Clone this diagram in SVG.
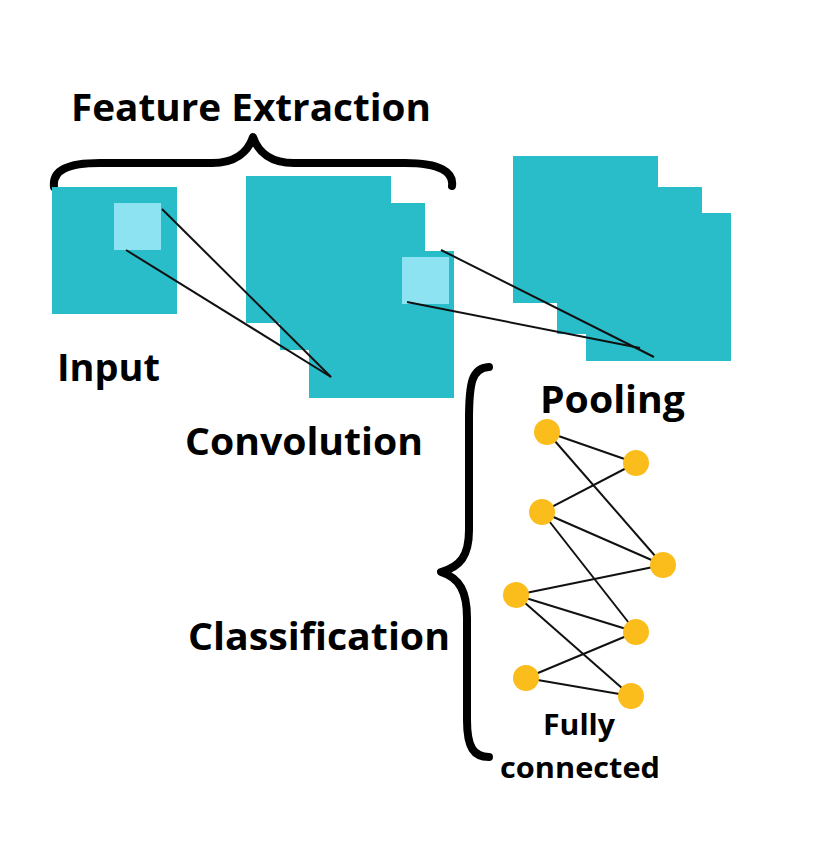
<svg xmlns="http://www.w3.org/2000/svg" width="828" height="842" viewBox="0 0 828 842">
<style>
.t{font-family:"Open Sans","Liberation Sans",sans-serif;font-weight:700;fill:#000}
.m{fill:#29BDC9}
.l{fill:#8EE3F2}
.n{fill:#FBBD1C}
.e{stroke:#111;stroke-width:2;fill:none}
.b{stroke:#000;stroke-width:8;fill:none;stroke-linecap:round;stroke-linejoin:round}
</style>
<rect width="828" height="842" fill="#fff"/>
<g id="title"><text class="t" x="251" y="121" font-size="38" text-anchor="middle" textLength="360" lengthAdjust="spacingAndGlyphs">Feature Extraction</text></g>
<g id="brace-top"><path class="b" d="M54,187 C52,170 68,163 100,163 L212,163 C235,163 248,152 253,137 C258,152 271,163 294,163 L405,163 C440,163 454,172 452,186"/></g>
<g id="brace-side"><path class="b" d="M489,367 C472,368 469,382 469,420 L469,530 C469,556 460,567 441,572 C460,578 467,592 467,618 L467,720 C467,748 474,757 489,757"/></g>
<g id="input">
<rect class="m" x="52" y="187" width="125" height="127"/>
<rect class="l" x="114" y="203" width="47" height="47"/>
<text class="t" x="57" y="381" font-size="38" textLength="103" lengthAdjust="spacingAndGlyphs">Input</text>
</g>
<g id="convolution">
<rect class="m" x="246" y="176" width="145" height="147"/>
<rect class="m" x="280" y="203" width="145" height="147"/>
<rect class="m" x="309" y="251" width="145" height="147"/>
<rect class="l" x="402" y="257" width="47" height="47"/>
<text class="t" x="185" y="455" font-size="38" textLength="238" lengthAdjust="spacingAndGlyphs">Convolution</text>
</g>
<g id="pooling">
<rect class="m" x="513" y="156" width="145" height="147"/>
<rect class="m" x="557" y="187" width="145" height="147"/>
<rect class="m" x="586" y="213" width="145" height="148"/>
<text class="t" x="540" y="413" font-size="38" textLength="145" lengthAdjust="spacingAndGlyphs">Pooling</text>
</g>
<g id="classification"><text class="t" x="188" y="650" font-size="38" textLength="262" lengthAdjust="spacingAndGlyphs">Classification</text></g>
<g id="connectors">
<line class="e" x1="162" y1="209" x2="331" y2="377"/>
<line class="e" x1="126" y1="250" x2="331" y2="377"/>
<line class="e" x1="441" y1="250" x2="654" y2="357"/>
<line class="e" x1="407" y1="302" x2="640" y2="348"/>
<line class="e" x1="547" y1="432" x2="636" y2="463"/>
<line class="e" x1="547" y1="432" x2="663" y2="565"/>
<line class="e" x1="636" y1="463" x2="542" y2="512"/>
<line class="e" x1="542" y1="512" x2="663" y2="565"/>
<line class="e" x1="542" y1="512" x2="636" y2="632"/>
<line class="e" x1="516" y1="595" x2="663" y2="565"/>
<line class="e" x1="516" y1="595" x2="636" y2="632"/>
<line class="e" x1="516" y1="595" x2="631" y2="696"/>
<line class="e" x1="526" y1="678" x2="636" y2="632"/>
<line class="e" x1="526" y1="678" x2="631" y2="696"/>
</g>
<g id="fc-nodes">
<circle class="n" cx="547" cy="432" r="13"/>
<circle class="n" cx="636" cy="463" r="13"/>
<circle class="n" cx="542" cy="512" r="13"/>
<circle class="n" cx="663" cy="565" r="13"/>
<circle class="n" cx="516" cy="595" r="13"/>
<circle class="n" cx="636" cy="632" r="13"/>
<circle class="n" cx="526" cy="678" r="13"/>
<circle class="n" cx="631" cy="696" r="13"/>
</g>
<g id="fc-label">
<text class="t" x="579" y="735" font-size="29" text-anchor="middle" textLength="72" lengthAdjust="spacingAndGlyphs">Fully</text>
<text class="t" x="580" y="778" font-size="29" text-anchor="middle" textLength="160" lengthAdjust="spacingAndGlyphs">connected</text>
</g>
</svg>
